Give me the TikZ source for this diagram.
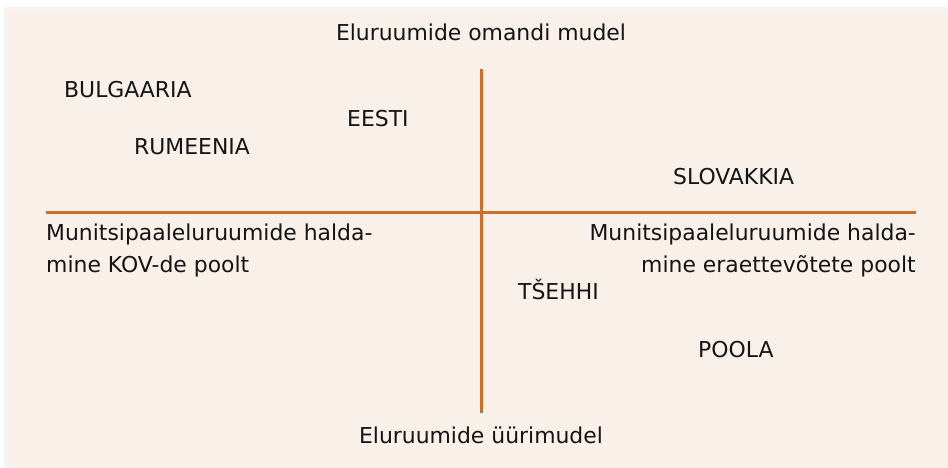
\documentclass[tikz,border=0pt]{standalone}
\usepackage{fontspec}
\setmainfont{DejaVu Sans}
\definecolor{panel}{HTML}{F9F0EA}
\definecolor{axis}{HTML}{C8702C}
\definecolor{ink}{HTML}{141414}
\definecolor{shadow}{HTML}{F4F4F4}
\begin{document}
\begin{tikzpicture}[x=1pt,y=-1pt,
  lbl/.style={inner sep=0pt, text=ink, font=\fontsize{21.9}{32}\selectfont},
  axisline/.style={draw=axis, line width=3pt}]
\useasboundingbox (0,0) rectangle (948,468);
\fill[white] (0,0) rectangle (948,468);
\fill[shadow] (4,7) rectangle (948,468);
\fill[panel] (8,11) rectangle (948,468);
% axes
\coordinate (hl) at (46,212);
\coordinate (hr) at (916,212);
\coordinate (vt) at (481,69);
\coordinate (vb) at (481,413);
\draw[axisline] (hl) -- (hr);
\draw[axisline] (vt) -- (vb);
% axis labels
\node[lbl, anchor=base] (top) at (481,41) {Eluruumide omandi mudel};
\node[lbl, anchor=base] (bottom) at (481,443) {Eluruumide üürimudel};
\node[lbl, anchor=north west, align=left] (left) at (46,223.5) {Munitsipaaleluruumide halda-\\mine KOV-de poolt};
\node[lbl, anchor=north east, align=right] (right) at (916,223.5) {Munitsipaaleluruumide halda-\\mine eraettevõtete poolt};
% countries
\node[lbl, anchor=base west] (bg) at (64,98) {BULGAARIA};
\node[lbl, anchor=base west] (ee) at (347,127) {EESTI};
\node[lbl, anchor=base west] (ro) at (134,155) {RUMEENIA};
\node[lbl, anchor=base west] (sk) at (673,184) {SLOVAKKIA};
\node[lbl, anchor=base west] (cz) at (518,299) {TŠEHHI};
\node[lbl, anchor=base west] (pl) at (698,357) {POOLA};
\end{tikzpicture}
\end{document}
